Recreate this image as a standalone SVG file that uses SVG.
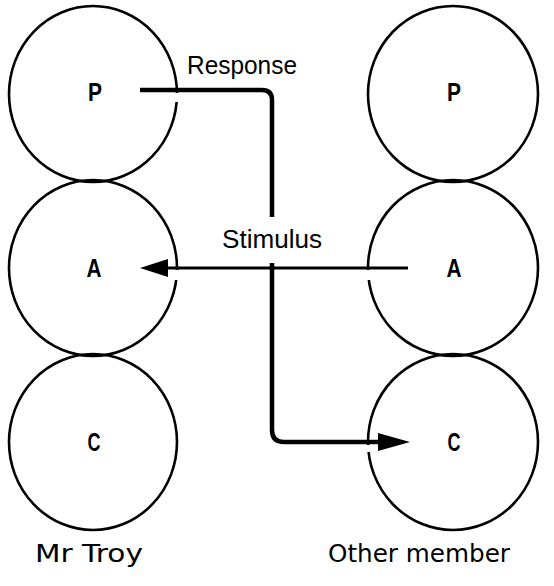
<svg xmlns="http://www.w3.org/2000/svg" width="554" height="586" viewBox="0 0 554 586">
<defs>
<style>
.circ{fill:none;stroke:#000;stroke-width:2.6}
.gap{fill:#fff;stroke:none}
.lbl{font-family:"Liberation Sans",Arial,sans-serif;font-weight:bold;font-size:26px;text-anchor:middle;fill:#000}
.cap{font-family:"Liberation Sans",Arial,sans-serif;font-size:26px;fill:#000}
.name{font-family:"DejaVu Sans","Liberation Sans",sans-serif;font-size:24px;fill:#000}
.thick{fill:none;stroke:#000;stroke-width:4.5;stroke-linejoin:round}
.thin{fill:none;stroke:#000;stroke-width:3}
.head{fill:#000}
</style>
</defs>
<rect width="554" height="586" fill="#fff"/>
<g id="troy-P"><ellipse class="circ" cx="93" cy="94" rx="84" ry="88"/><rect class="gap" x="168" y="93" width="16" height="9"/><text class="lbl" x="95" y="101" textLength="14" lengthAdjust="spacingAndGlyphs">P</text></g>
<g id="troy-A"><ellipse class="circ" cx="93" cy="268" rx="84" ry="88"/><rect class="gap" x="168" y="270" width="16" height="10"/><text class="lbl" x="94" y="277" textLength="15" lengthAdjust="spacingAndGlyphs">A</text></g>
<g id="troy-C"><ellipse class="circ" cx="93" cy="442" rx="84" ry="88"/><text class="lbl" x="94" y="451" textLength="13" lengthAdjust="spacingAndGlyphs">C</text></g>
<g id="other-P"><ellipse class="circ" cx="453" cy="94" rx="85" ry="88"/><text class="lbl" x="454" y="101" textLength="14" lengthAdjust="spacingAndGlyphs">P</text></g>
<g id="other-A"><ellipse class="circ" cx="453" cy="268" rx="85" ry="88"/><rect class="gap" x="361" y="270" width="14" height="10"/><text class="lbl" x="454" y="277" textLength="15" lengthAdjust="spacingAndGlyphs">A</text></g>
<g id="other-C"><ellipse class="circ" cx="453" cy="442" rx="85" ry="88"/><rect class="gap" x="361" y="445" width="14" height="7"/><text class="lbl" x="454" y="451" textLength="13" lengthAdjust="spacingAndGlyphs">C</text></g>
<g id="connectors">
<path class="thick" d="M140,90 H262 Q272,90 272,100 V217"/>
<path class="thin" d="M408,268 H164"/>
<polygon class="head" points="140,268 168,259 168,277"/>
<path class="thick" d="M272,263 V430 Q272,442 284,442 H382"/>
<polygon class="head" points="410,442 378,433 378,451"/>
</g>
<text class="cap" x="187" y="74" textLength="110" lengthAdjust="spacingAndGlyphs">Response</text>
<text class="cap" x="222" y="248" textLength="100" lengthAdjust="spacingAndGlyphs">Stimulus</text>
<text class="name" x="35" y="562" textLength="108" lengthAdjust="spacingAndGlyphs">Mr Troy</text>
<text class="name" x="328" y="562" textLength="182" lengthAdjust="spacingAndGlyphs">Other member</text>
</svg>
